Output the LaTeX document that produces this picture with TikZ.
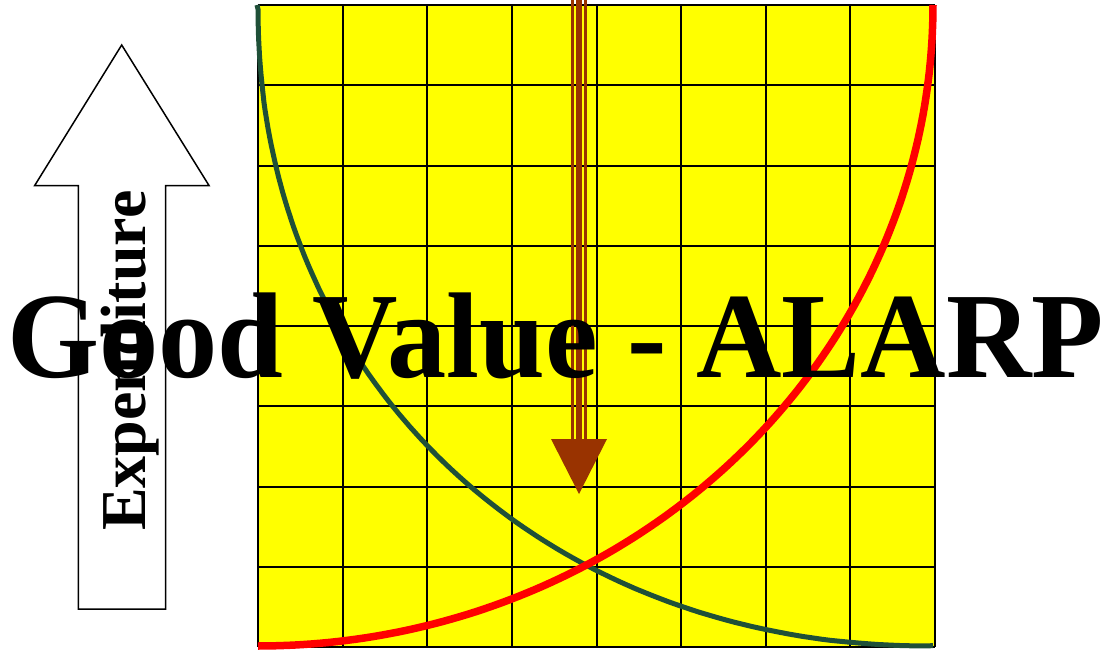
\documentclass[tikz,border=0pt]{standalone}
\usepackage{graphicx}
\usepackage{fontspec}
\setmainfont{Liberation Serif}
\definecolor{gridyellow}{RGB}{255,255,0}
\definecolor{arrowbrown}{RGB}{153,51,0}
\definecolor{darkcurve}{RGB}{31,80,56}
\begin{document}
\begin{tikzpicture}[x=1pt,y=-1pt,
  gridline/.style={black,line width=2pt},
  redcurve/.style={red,line width=7.5pt},
  greencurve/.style={darkcurve,line width=5pt},
  shaftline/.style={arrowbrown},
  blockarrow/.style={draw=black,fill=white,line width=1.5pt,line join=miter},
  bigtext/.style={font=\fontsize{122}{122}\selectfont\bfseries,inner sep=0pt},
  exptext/.style={font=\fontsize{64}{64}\selectfont\bfseries,inner sep=0pt}]
\useasboundingbox (0,0) rectangle (1107,650);
% yellow grid
\fill[gridyellow] (258,5) rectangle (935,647);
\foreach \i in {0,...,8}{
  \draw[gridline] ({258+\i*677/8},5) -- ({258+\i*677/8},647);
  \draw[gridline] (258,{5+\i*642/8}) -- (935,{5+\i*642/8});
}
% green curve (slightly pinched quarter superellipse)
\draw[greencurve] (257,5) -- plot[domain=0.3:89.7,samples=120,variable=\t]
  ({933-675*pow(cos(\t),0.952)},{5+641*pow(sin(\t),0.952)}) -- (933,645.5);
% red curve (quarter ellipse)
\draw[redcurve] plot[domain=0:90,samples=120,variable=\t]
  ({258+675*sin(\t)},{5+641*cos(\t)});
% brown arrow
\coordinate (shafttop) at (579,0);
\coordinate (shaftbot) at (579,440);
\draw[shaftline,line width=3pt] ([xshift=-6.8pt]shafttop) -- ([xshift=-6.8pt]shaftbot);
\draw[shaftline,line width=5.4pt] (shafttop) -- (shaftbot);
\draw[shaftline,line width=3.3pt] ([xshift=6.3pt]shafttop) -- ([xshift=6.3pt]shaftbot);
\fill[arrowbrown] (551,439) -- (607,439) -- (579,494) -- cycle;
% block arrow
\draw[blockarrow] (78.3,609) -- (78.3,185.5) -- (34.7,185.5) -- (121.7,45) -- (209,185.5) -- (165.7,185.5) -- (165.7,609) -- cycle;
% texts
\node[exptext,rotate=90,anchor=base west] (expenditure) at (145,531) {Expenditure};
\node[bigtext,anchor=base] (title) at (555.5,377) {\scalebox{0.97}[1]{Good Value - ALARP}};
\end{tikzpicture}
\end{document}
